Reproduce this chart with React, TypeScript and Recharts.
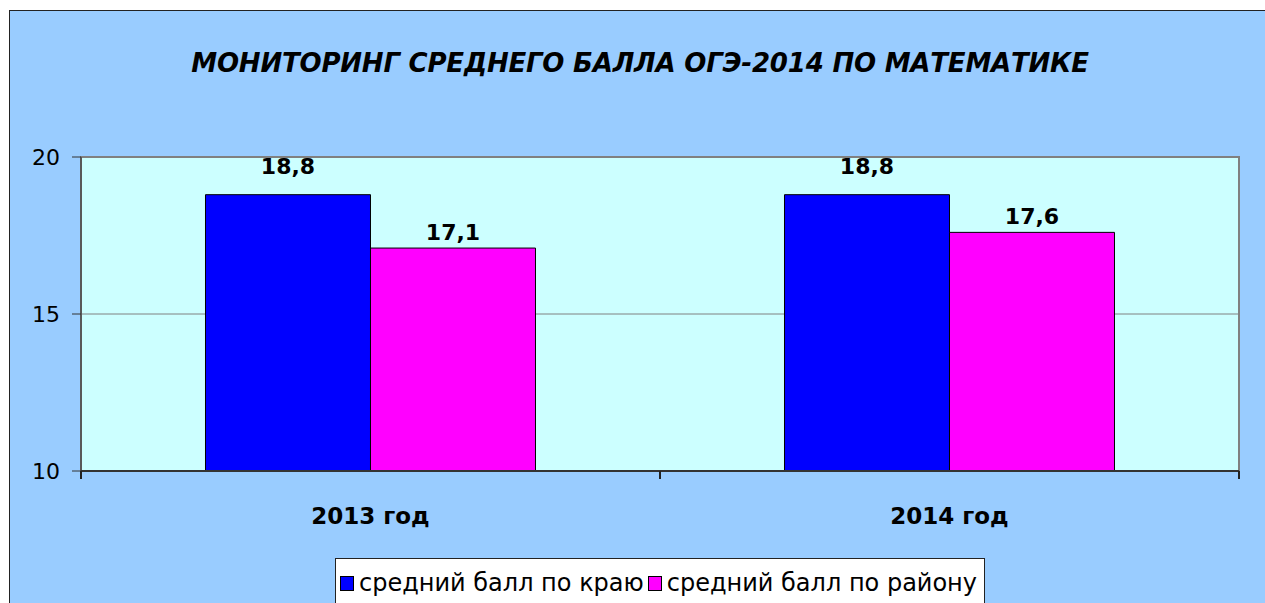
import { BarChart, Bar, XAxis, YAxis, CartesianGrid, ReferenceArea, LabelList, Legend } from "recharts";

const categories = ["2013 год", "2014 год"];
const krayValues = [18.8, 18.8];
const rayonValues = [17.1, 17.6];
const yTicks = [10, 15, 20];
const seriesNames = ["средний балл по краю", "средний балл по району"];

const data = categories.map((year, i) => ({
  year,
  kray: krayValues[i],
  rayon: rayonValues[i],
}));

const FONT = "'DejaVu Sans', sans-serif";
const commaFmt = (v: any) => String(v).replace(".", ",");

// category label plus the small tick marks at the category boundaries
function YearTick(props: any) {
  const { x, y, payload, index, visibleTicksCount } = props;
  const half = payload.offset || 0;
  return (
    <g>
      <line x1={x - half} x2={x - half} y1={y} y2={y + 8} stroke="#222" strokeWidth={2} />
      {index === visibleTicksCount - 1 && (
        <line x1={x + half} x2={x + half} y1={y} y2={y + 8} stroke="#222" strokeWidth={2} />
      )}
      <text x={x} y={y + 37} dy="0.71em" textAnchor="middle" fill="#000" fontFamily={FONT} fontSize={23} fontWeight="bold">
        {payload.value}
      </text>
    </g>
  );
}

function LegendBox({ payload }: any) {
  return (
    <div
      style={{
        width: 650,
        height: 50,
        background: "#fff",
        border: "1px solid #222",
        display: "flex",
        alignItems: "flex-start",
        paddingTop: 10,
        paddingLeft: 4,
        boxSizing: "border-box",
        fontFamily: FONT,
        fontSize: 24,
        color: "#000",
        whiteSpace: "nowrap",
      }}
    >
      {(payload || []).map((p: any) => (
        <span key={p.value} style={{ display: "flex", alignItems: "center", marginRight: 4, lineHeight: "28px" }}>
          <span
            style={{
              display: "inline-block",
              width: 12,
              height: 13,
              background: p.color,
              border: "1px solid #000",
              marginRight: 5,
            }}
          />
          {p.value}
        </span>
      ))}
    </div>
  );
}

export default function App() {
  return (
    <div style={{ position: "fixed", left: 0, top: 0, width: 1265, height: 603, overflow: "hidden", background: "#fff" }}>
      <style>{"html,body{margin:0;overflow:hidden}"}</style>
      <div
        style={{
          position: "absolute",
          left: 9,
          top: 10,
          width: 1256,
          height: 593,
          borderLeft: "1px solid #222",
          borderTop: "1px solid #222",
          background: "#99CCFF",
          overflow: "hidden",
        }}
      >
        <div
          style={{
            position: "absolute",
            left: 0,
            top: 37,
            width: 1260,
            textAlign: "center",
            fontFamily: FONT,
            fontWeight: "bold",
            fontStyle: "italic",
            fontSize: 26,
            letterSpacing: -0.2,
            color: "#000",
            whiteSpace: "nowrap",
          }}
        >
          МОНИТОРИНГ СРЕДНЕГО БАЛЛА ОГЭ-2014 ПО МАТЕМАТИКЕ
        </div>
        <BarChart
          width={1255}
          height={592}
          data={data}
          margin={{ top: 146, right: 26, left: 0, bottom: 72 }}
          barCategoryGap="21.5%"
          barGap={0}
        >
          <CartesianGrid fill="#CCFFFF" stroke="#808080" vertical={false} />
          <ReferenceArea y1={10} y2={20} fill="none" stroke="#808080" strokeWidth={2} />
          <XAxis
            dataKey="year"
            tickLine={false}
            tickSize={0}
            tickMargin={0}
            height={60}
            axisLine={{ stroke: "#333", strokeWidth: 2 }}
            tick={<YearTick />}
          />
          <YAxis
            domain={[10, 20]}
            ticks={yTicks}
            width={71}
            tickSize={9}
            tickMargin={12}
            axisLine={{ stroke: "#333" }}
            tickLine={{ stroke: "#333" }}
            tick={{ fill: "#000", fontFamily: FONT, fontSize: 22 }}
          />
          <Legend
            layout="horizontal"
            verticalAlign="middle"
            align="center"
            content={<LegendBox />}
            wrapperStyle={{ left: 325, top: 547, width: 650, height: 50 }}
          />
          <Bar dataKey="kray" name={seriesNames[0]} fill="#0000FF" stroke="#000" strokeWidth={1} isAnimationActive={false}>
            <LabelList
              dataKey="kray"
              position="top"
              offset={21}
              formatter={commaFmt}
              style={{ fill: "#000", fontFamily: FONT, fontSize: 22, fontWeight: "bold" }}
            />
          </Bar>
          <Bar dataKey="rayon" name={seriesNames[1]} fill="#FF00FF" stroke="#000" strokeWidth={1} isAnimationActive={false}>
            <LabelList
              dataKey="rayon"
              position="top"
              offset={8}
              formatter={commaFmt}
              style={{ fill: "#000", fontFamily: FONT, fontSize: 22, fontWeight: "bold" }}
            />
          </Bar>
        </BarChart>
      </div>
    </div>
  );
}
